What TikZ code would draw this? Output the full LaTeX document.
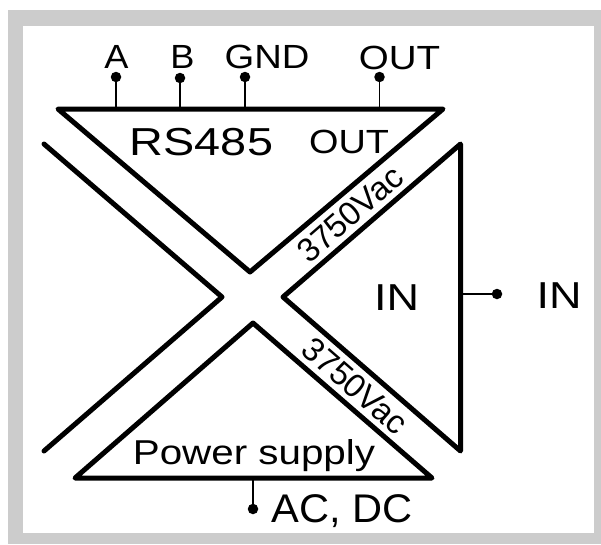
\documentclass[tikz,border=0pt]{standalone}
\usepackage{fontspec}
\setmainfont{Liberation Sans}
\tikzset{
  thick line/.style={line width=5pt,line join=round,line cap=round,black},
  stem/.style={line width=1.2pt,black},
  dot/.style={circle,fill=black,inner sep=0pt,minimum size=10.5pt},
  lab/.style={inner sep=0pt,anchor=base,transform shape},
  vlab/.style={inner sep=0pt,anchor=center,transform shape},
}
\newcommand{\fsz}[1]{\fontsize{#1}{#1}\selectfont}
\begin{document}
\begin{tikzpicture}[x=1pt,y=-1pt]
\useasboundingbox (0,0) rectangle (601,544);
\fill[white] (0,0) rectangle (601,544);
\fill[black!20] (8,10) rectangle (601,544);
\fill[white] (22.5,25.5) rectangle (594,533);
% corners
\coordinate (t1) at (58,109); \coordinate (t2) at (443,109); \coordinate (t3) at (250,272);
\coordinate (l1) at (44,144); \coordinate (l2) at (222,297); \coordinate (l3) at (44,451);
\coordinate (r1) at (460.5,144); \coordinate (r2) at (460.5,451); \coordinate (r3) at (283,297);
\coordinate (b1) at (75,478); \coordinate (b2) at (432,478); \coordinate (b3) at (253,323);
\draw[thick line] (t1) -- (t2) -- (t3) -- cycle;
\draw[thick line] (l1) -- (l2) -- (l3);
\draw[thick line] (r1) -- (r2) -- (r3) -- cycle;
\draw[thick line] (b1) -- (b2) -- (b3) -- cycle;
% terminals
\node[dot] (da) at (116,77) {};
\node[dot] (db) at (180,78) {};
\node[dot] (dg) at (245,77) {};
\node[dot] (do) at (379.5,77) {};
\node[dot] (di) at (497,294) {};
\node[dot] (dp) at (253,509) {};
\coordinate (sa) at (116,109); \coordinate (sb) at (180,109); \coordinate (sg) at (245,109);
\coordinate (so) at (379.5,109); \coordinate (si) at (460.5,294); \coordinate (sp) at (253,478);
\draw[stem] (sa) -- (da); \draw[stem] (sb) -- (db); \draw[stem] (sg) -- (dg);
\draw[stem] (so) -- (do); \draw[stem] (si) -- (di); \draw[stem] (sp) -- (dp);
% labels
\node[lab,xscale=1.08] (la) at (116.5,68.5) {\fsz{33.5}A};
\node[lab,xscale=1.08] (lb) at (182.5,68.5) {\fsz{33.5}B};
\node[lab,xscale=1.14] (lg) at (267,68.5) {\fsz{33.5}GND};
\node[lab,xscale=1.15] (lo) at (399.5,69) {\fsz{33.5}OUT};
\node[lab,xscale=1.2] (rs) at (201.5,155.5) {\fsz{39}RS485};
\node[lab,xscale=1.13] (oo) at (349,153.5) {\fsz{33.5}OUT};
\node[lab,xscale=1.2] (in1) at (396.5,310.5) {\fsz{37.5}IN};
\node[lab,xscale=1.2] (in2) at (559,308.5) {\fsz{37.5}IN};
\node[lab,xscale=1.17] (ps) at (254,464.5) {\fsz{34.5}Power supply};
\node[lab,xscale=1.04] (ac) at (342,522) {\fsz{40}AC, DC};
\node[vlab,rotate=41] (v1) at (350,214) {\fsz{33}3750Vac};
\node[vlab,rotate=-41] (v2) at (355,386) {\fsz{33}3750Vac};
\end{tikzpicture}
\end{document}
